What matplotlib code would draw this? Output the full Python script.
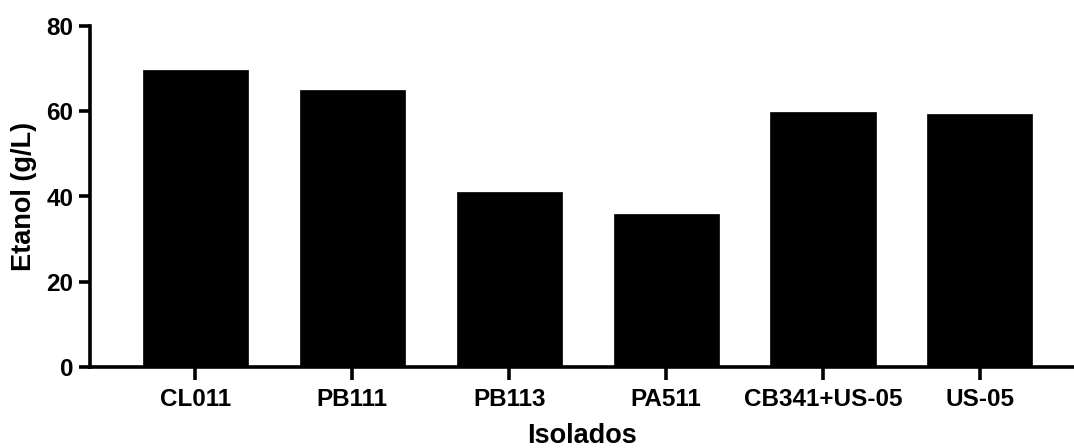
import matplotlib
matplotlib.use("Agg")
import matplotlib.pyplot as plt
import numpy as np

# ethanol produced by each isolate
isolados = ["CL011", "PB111", "PB113", "PA511", "CB341+US-05", "US-05"]
etanol = [69.7, 64.9, 41.0, 35.8, 59.8, 59.3]
yticks = [0, 20, 40, 60, 80]

plt.rcParams["font.family"] = ["Liberation Sans", "DejaVu Sans"]
plt.rcParams["font.weight"] = "bold"

fig = plt.figure(figsize=(10.74, 4.48), dpi=100)
ax = fig.add_axes([90 / 1074, 81 / 448, 1 - 90 / 1074, 341 / 448])

x = np.arange(len(isolados))
ax.bar(x, etanol, 0.67, color="black", edgecolor="black", linewidth=0.5)

ax.set_xlim(-0.672, len(isolados) - 1 + 0.6)
ax.set_ylim(0, 80)
ax.set_yticks(yticks)
ax.set_xticks(x)
ax.set_xticklabels(isolados)

for s in ("top", "right"):
    ax.spines[s].set_visible(False)
for s in ("left", "bottom"):
    ax.spines[s].set_linewidth(2.6)
ax.tick_params(axis="both", width=2.6, length=8, labelsize=17.5, pad=4)
ax.tick_params(axis="x", length=9, pad=6)

ax.set_ylabel("Etanol (g/L)", fontsize=19.5, fontweight="bold", labelpad=7)
ax.set_xlabel("Isolados", fontsize=19.5, fontweight="bold", labelpad=9)

fig.savefig("out.png", dpi=100)
